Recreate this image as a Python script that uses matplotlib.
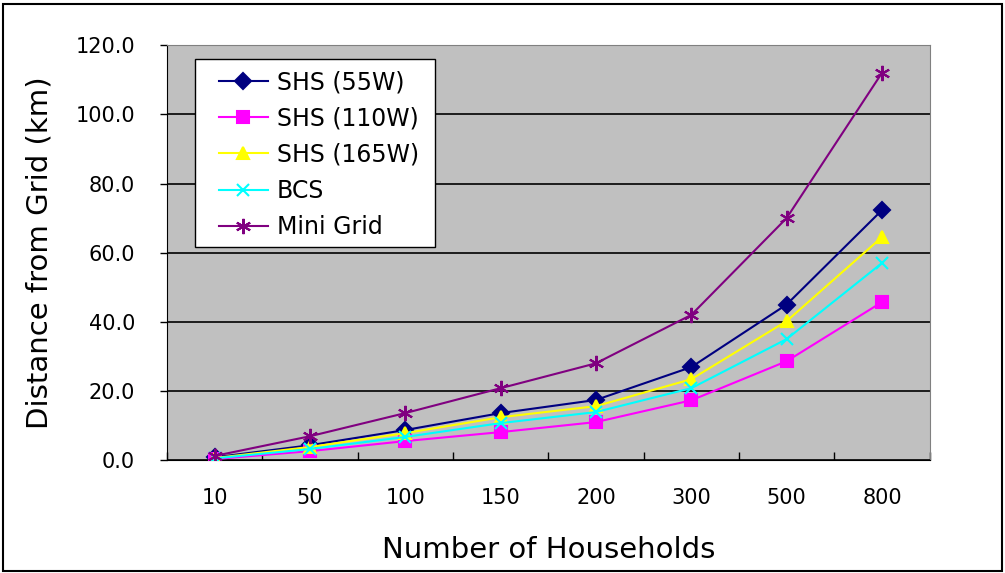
import matplotlib
matplotlib.use("Agg")
import matplotlib.pyplot as plt
from matplotlib.patches import Rectangle
import numpy as np

households = ["10", "50", "100", "150", "200", "300", "500", "800"]
shs_55 = [0.8, 4.3, 8.7, 13.6, 17.4, 26.9, 45.0, 72.3]
shs_110 = [0.3, 2.6, 5.5, 8.1, 11.0, 17.3, 28.6, 45.7]
shs_165 = [0.6, 3.8, 7.8, 12.4, 15.6, 23.4, 40.2, 64.5]
bcs = [0.5, 3.2, 6.7, 10.7, 13.9, 20.8, 35.0, 57.0]
mini_grid = [1.2, 6.9, 13.6, 20.8, 28.0, 42.0, 70.0, 112.0]

plt.rcParams["font.family"] = ["DejaVu Sans"]

fig = plt.figure(figsize=(10.05, 5.73), dpi=100)
fig.patches.append(Rectangle((0.003, 0.003), 0.994, 0.99, transform=fig.transFigure,
                             fill=False, edgecolor="black", linewidth=1.5))
ax = fig.add_axes([0.166, 0.197, 0.759, 0.724])
ax.set_facecolor("#C0C0C0")

x = np.arange(len(households))
series = [
    (shs_55, "SHS (55W)", "#000080", "D", 8),
    (shs_110, "SHS (110W)", "#FF00FF", "s", 8),
    (shs_165, "SHS (165W)", "#FFFF00", "^", 9),
    (bcs, "BCS", "#00FFFF", "x", 9),
    (mini_grid, "Mini Grid", "#800080", (6, 2, 0), 11),
]
for values, label, color, marker, size in series:
    ax.plot(x, values, color=color, marker=marker, markersize=size, linewidth=1.5,
            markeredgewidth=1.5, label=label, zorder=3)

ax.set_xlim(-0.5, len(households) - 0.5)
ax.set_ylim(0, 120)
ax.set_yticks(np.arange(0, 121, 20))
ax.set_yticklabels([f"{v:.1f}" for v in np.arange(0, 121, 20)], fontsize=15)
ax.set_xticks(x)
ax.set_xticklabels(households, fontsize=15)
ax.set_xticks(np.arange(-0.5, len(households), 1), minor=True)
ax.tick_params(axis="x", which="major", length=0, pad=20)
ax.tick_params(axis="x", which="minor", length=6, direction="in", width=1)
ax.tick_params(axis="y", length=5, direction="out", width=1, pad=18)
ax.yaxis.grid(True, color="black", linewidth=1.2)
ax.set_axisbelow(True)
for side in ["top", "right"]:
    ax.spines[side].set_color("#808080")
ax.spines["left"].set_color("black")
ax.spines["bottom"].set_color("black")

ax.set_xlabel("Number of Households", fontsize=21, labelpad=20)
ax.set_ylabel("Distance from Grid (km)", fontsize=21, labelpad=16)

# legend box drawn separately so the inner padding can match the original
ax.add_patch(Rectangle((0.0367, 0.513), 0.3145, 0.453, transform=ax.transAxes,
                       facecolor="white", edgecolor="black", linewidth=1.0, zorder=4))
leg = ax.legend(loc="upper left", bbox_to_anchor=(0.068, 0.94), borderaxespad=0,
                fontsize=17, frameon=False, handlelength=2.1, borderpad=0,
                labelspacing=0.52, handletextpad=0.35)
leg.set_zorder(5)

fig.savefig("out.png", dpi=100)
